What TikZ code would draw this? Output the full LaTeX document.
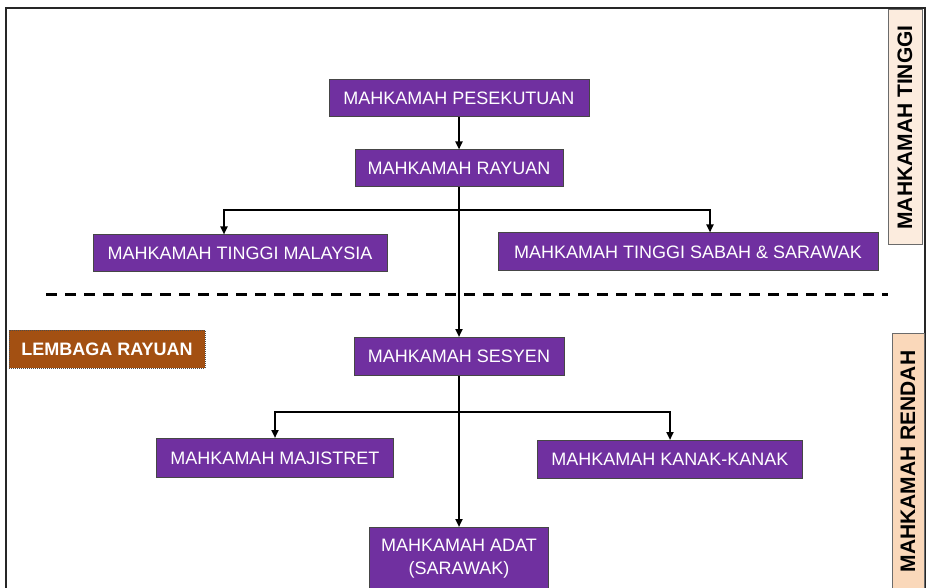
\documentclass[tikz,border=0pt]{standalone}
\usepackage{fontspec}
\setmainfont{Liberation Sans}
\usetikzlibrary{positioning,arrows.meta}
\definecolor{courtpurple}{RGB}{112,48,160}
\definecolor{courtborder}{RGB}{70,70,70}
\definecolor{appealbrown}{RGB}{163,80,18}
\definecolor{highpeach}{RGB}{252,236,222}
\definecolor{lowpeach}{RGB}{250,216,186}

\begin{document}
\begin{tikzpicture}[x=1pt,y=-1pt,on grid,
    court/.style={draw=courtborder,line width=1pt,fill=courtpurple,text=white,
      font=\fontsize{18}{23}\selectfont,minimum height=37pt,inner sep=0pt},
    level/.style={draw=courtborder!80,line width=1pt,rotate=90,inner sep=0pt,
      font=\bfseries\fontsize{21}{24}\selectfont},
    link/.style={line width=2pt,-{Triangle[length=8pt,width=7pt]}}]
        \useasboundingbox (0,0) rectangle (927,588);
        \clip (0,0) rectangle (927,588);
        \draw[line width=2pt,black!85] (6,590) -- (6,8) -- (925,8) -- (925,590);
        \draw[line width=3pt,dash pattern=on 11pt off 8pt] (46,295) -- (888,295);

        \node[court,minimum width=260pt] (pesekutuan) at (459,98.5) {MAHKAMAH PESEKUTUAN};
        \node[court,minimum width=208pt] (rayuan) [below=70pt of pesekutuan] {MAHKAMAH RAYUAN};
        \node[court,minimum width=294pt] (malaysia) [below left=85pt and 219pt of rayuan] {MAHKAMAH TINGGI MALAYSIA};
        \node[court,minimum width=380pt,minimum height=38pt] (sabah) [below right=83.5pt and 229pt of rayuan] {MAHKAMAH TINGGI SABAH \& SARAWAK};
        \node[court,minimum width=210pt,minimum height=38pt] (sesyen) [below=188pt of rayuan] {MAHKAMAH SESYEN};
        \node[court,minimum width=237pt,minimum height=39pt] (majistret) [below left=101.5pt and 184pt of sesyen] {MAHKAMAH MAJISTRET};
        \node[court,minimum width=265pt,minimum height=38pt] (kanak) [below right=103pt and 211pt of sesyen] {MAHKAMAH KANAK-KANAK};
        \node[court,minimum width=179pt,minimum height=62pt,align=center] (adat) [below=202pt of sesyen] {MAHKAMAH ADAT\\(SARAWAK)};

        \node[draw=black!70,densely dotted,line width=1pt,fill=appealbrown,text=white,
          minimum width=196pt,minimum height=38pt,inner sep=0pt,
          font=\bfseries\fontsize{18}{22}\selectfont] (lembaga) at (107,349) {LEMBAGA RAYUAN};

        \node[level,fill=highpeach,minimum width=235pt,minimum height=34pt] (tinggi) at (905,127.5) {MAHKAMAH TINGGI};
        \node[level,fill=lowpeach,minimum width=257pt,minimum height=32pt] (rendah) at (908,461.5) {MAHKAMAH RENDAH};

        \draw[link] (pesekutuan.south) -- (rayuan.north);
        \draw[link] (rayuan.south) -- ++(0,23) -| ([xshift=-16pt]malaysia.north);
        \draw[link] (rayuan.south) -- ++(0,23) -| ([xshift=22pt]sabah.north);
        \draw[link] (rayuan.south) -- (sesyen.north);
        \draw[link] (sesyen.south) -- ++(0,36) -| (majistret.north);
        \draw[link] (sesyen.south) -- ++(0,36) -| (kanak.north);
        \draw[link] (sesyen.south) -- (adat.north);

\end{tikzpicture}
\end{document}
